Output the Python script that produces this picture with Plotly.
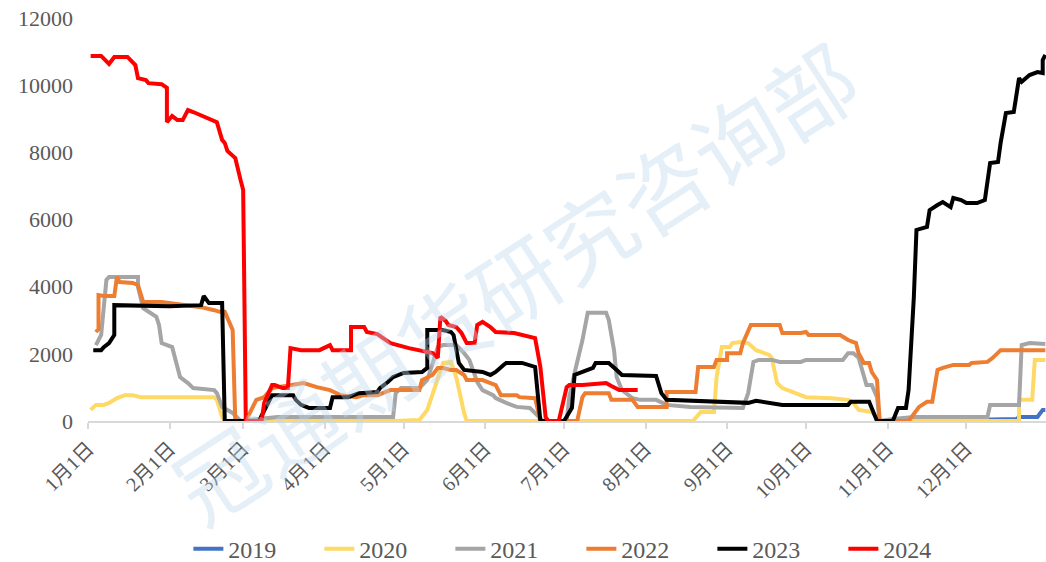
import pandas as pd
import plotly.graph_objects as go

# Day-of-year offsets (0 = 1月1日) and values
day_2019 = [316, 353, 354, 361, 363, 364]
val_2019 = [0, 60, 120, 120, 330, 330]

day_2020 = [1, 3, 6, 8, 11, 14, 17, 20, 48, 49, 51, 52, 117, 126, 129, 133, 135, 138, 140, 143, 144,
            230, 233, 238, 239, 241, 244, 245, 248, 251, 254, 259, 260, 262, 264, 268, 273, 283, 289,
            291, 293, 298, 301, 354, 354, 359, 360, 364]
val_2020 = [330, 480, 480, 540, 680, 770, 770, 710, 710, 630, 120, 0, 0, 30, 330, 1220, 1730, 1760, 1310, 240, 0,
            0, 270, 270, 1310, 2200, 2200, 2320, 2350, 2320, 2110, 1970, 1880, 1130, 980, 860, 710, 680, 630,
            540, 330, 270, 0, 0, 630, 630, 1820, 1820]

day_2021 = [3, 5, 7, 8, 19, 19, 21, 23, 26, 27, 28, 32, 33, 35, 38, 40, 48, 49, 51, 55, 58, 67, 72, 116,
            117, 119, 126, 129, 133, 135, 140, 143, 145, 148, 150, 154, 155, 159, 163, 168, 171, 173, 182,
            183, 185, 188, 190, 197, 198, 200, 201, 203, 207, 210, 216, 220, 229, 245, 249, 251, 253, 255,
            260, 263, 271, 273, 287, 289, 291, 293, 295, 296, 298, 300, 301, 306, 314, 342, 343, 354, 355,
            358, 364]
val_2021 = [2260, 2560, 4200, 4290, 4290, 3990, 3360, 3250, 3100, 2860, 2320, 2200, 1910, 1310, 1130, 980, 920, 830, 420, 240, 0, 90, 120, 120,
            830, 980, 980, 1220, 2200, 2260, 2260, 2020, 1820, 1160, 920, 770, 680, 540, 420, 390, 180, 0, 0,
            710, 1430, 2410, 3220, 3220, 3010, 2110, 1310, 920, 680, 630, 630, 480, 420, 390, 390, 830, 1760, 1820,
            1820, 1760, 1760, 1820, 1820, 2020, 2020, 1880, 1370, 1070, 1070, 710, 0, 60, 120, 120, 480, 480, 2260,
            2320, 2290]

day_2022 = [3, 4, 4, 6, 10, 11, 12, 16, 17, 19, 20, 21, 28, 43, 48, 50, 52, 54, 55, 56, 60, 64, 67, 70, 77,
            82, 87, 92, 96, 102, 105, 110, 112, 115, 126, 127, 131, 133, 135, 138, 140, 143, 144, 150, 153,
            155, 157, 163, 164, 168, 170, 172, 186, 188, 189, 198, 199, 207, 209, 220, 220, 231, 232, 238,
            239, 243, 243, 248, 249, 252, 263, 264, 271, 273, 274, 286, 289, 292, 293, 295, 297, 298, 300,
            301, 312, 316, 319, 321, 323, 325, 329, 335, 336, 342, 344, 347, 364]
val_2022 = [2650, 2740, 3750, 3720, 3720, 4290, 4140, 4140, 4110, 4050, 3810, 3540, 3540, 3390, 3300, 3250, 3250, 2920, 2710, 0, 0, 630, 710, 980, 1070,
            1130, 1010, 920, 770, 710, 770, 770, 830, 920, 920, 1220, 1370, 1580, 1580, 1520, 1520, 1370, 1220, 1220, 1130,
            1070, 770, 770, 710, 710, 680, 0, 0, 710, 830, 830, 630, 630, 420, 420, 860, 860, 1610, 1610,
            1820, 1820, 2020, 2020, 2320, 2860, 2860, 2620, 2620, 2650, 2560, 2560, 2410, 2320, 2020, 1730, 1730, 1460, 1220,
            0, 0, 420, 570, 570, 1520, 1580, 1670, 1670, 1730, 1760, 1880, 2110, 2110]

day_2023 = [2, 5, 6, 8, 10, 10, 31, 43, 44, 45, 46, 51, 52, 65, 70, 72, 78, 79, 81, 84, 92, 93, 99, 101,
            103, 110, 111, 114, 116, 120, 127, 129, 129, 135, 138, 139, 141, 143, 150, 153, 155, 158, 159,
            165, 168, 170, 172, 181, 184, 185, 188, 192, 193, 198, 201, 203, 216, 218, 220, 251, 254, 260,
            264, 289, 290, 297, 298, 300, 306, 308, 311, 312, 314, 315, 319, 320, 323, 325, 328, 329, 332,
            334, 338, 341, 343, 346, 347, 349, 352, 354, 355, 358, 361, 363, 363, 364]
val_2023 = [2110, 2110, 2200, 2320, 2560, 3450, 3420, 3450, 3720, 3600, 3510, 3510, 0, 0, 770, 770, 770, 630, 480, 390, 390, 710, 710, 770,
            830, 860, 980, 1160, 1310, 1430, 1460, 1580, 2710, 2710, 2650, 2560, 1730, 1520, 1460, 1370, 1460, 1670, 1730,
            1730, 1670, 1610, 0, 0, 390, 1370, 1460, 1580, 1730, 1730, 1520, 1370, 1340, 830, 630, 540, 600, 540,
            480, 480, 570, 570, 390, 0, 0, 390, 390, 920, 3690, 5690, 5780, 6280, 6430, 6520, 6370, 6640, 6580,
            6490, 6490, 6580, 7680, 7710, 8280, 9170, 9200, 10210, 10100, 10300, 10390, 10360, 10750, 10900]

day_2024 = [1, 5, 8, 10, 15, 18, 19, 22, 23, 28, 30, 30, 32, 34, 36, 38, 40, 49, 51, 52, 53, 56, 58, 59,
            60, 66, 67, 70, 71, 74, 76, 77, 81, 88, 92, 93, 100, 100, 105, 106, 110, 115, 122, 131, 133,
            134, 136, 137, 140, 142, 144, 147, 148, 150, 153, 155, 162, 168, 170, 172, 174, 175, 179, 182,
            183, 188, 197, 199, 202, 209]
val_2024 = [10870, 10870, 10630, 10840, 10840, 10600, 10210, 10150, 10060, 10030, 9920, 8900, 9080, 8960, 8960, 9260, 9200, 8900, 8370, 8280, 8040, 7830, 7180, 6880,
            0, 0, 540, 1070, 1070, 980, 980, 2170, 2110, 2110, 2260, 2110, 2110, 2800, 2800, 2650, 2590, 2320, 2170, 2020, 1880,
            3100, 2980, 2860, 2800, 2620, 2320, 2320, 2860, 2950, 2800, 2650, 2620, 2500, 2470, 1610, 120, 0, 0, 1010,
            1070, 1070, 1130, 1040, 920, 920]

series_names = ["2019", "2020", "2021", "2022", "2023", "2024"]
series_days = [day_2019, day_2020, day_2021, day_2022, day_2023, day_2024]
series_vals = [val_2019, val_2020, val_2021, val_2022, val_2023, val_2024]
series_colors = ["#4472C4", "#FFD966", "#A5A5A5", "#ED7D31", "#000000", "#FF0000"]

month_ticks = ["1月1日", "2月1日", "3月1日", "4月1日", "5月1日", "6月1日",
               "7月1日", "8月1日", "9月1日", "10月1日", "11月1日", "12月1日"]

base = pd.Timestamp("2023-01-01")
tickvals = [pd.Timestamp(2023, m, 1) for m in range(1, 13)]

fig = go.Figure()
for name, days, vals, color in zip(series_names, series_days, series_vals, series_colors):
    xs = [base + pd.Timedelta(days=d) for d in days]
    fig.add_trace(go.Scatter(x=xs, y=vals, mode="lines", name=name,
                             line=dict(color=color, width=4)))

serif = "Liberation Serif, Noto Sans CJK SC, serif"

fig.update_layout(
    width=1046, height=562,
    margin=dict(l=88, r=0, t=18, b=141, autoexpand=False),
    plot_bgcolor="white", paper_bgcolor="white",
    showlegend=True,
    legend=dict(orientation="h", x=0.515, xanchor="center", y=-0.318, yanchor="middle",
                font=dict(family=serif, size=24, color="#595959"),
                entrywidth=86, entrywidthmode="pixels", tracegroupgap=0),
    xaxis=dict(type="date", range=[base, pd.Timestamp("2023-12-31 06:00")], automargin=False,
               tickvals=tickvals, ticktext=month_ticks, tickangle=-45,
               tickfont=dict(family=serif, size=20, color="#595959"),
               showgrid=False, zeroline=False, showline=True, linecolor="#D9D9D9", linewidth=2,
               ticks="outside", ticklen=6, tickcolor="#D9D9D9", tickwidth=2),
    yaxis=dict(range=[0, 12000], dtick=2000, tickformat="d", automargin=False,
               showgrid=False, zeroline=False, showline=False,
               tickfont=dict(family=serif, size=22, color="#595959"), ticks="", ticklabelstandoff=14),
    annotations=[dict(text="冠通期货研究咨询部", xref="paper", yref="paper", x=0.445, y=0.35,
                      showarrow=False, textangle=-33,
                      font=dict(family="Noto Sans CJK SC", size=88, color="rgba(189,215,238,0.4)"))],
)

fig.write_html("out.html", config={"displayModeBar": False},
               post_script="document.body.style.margin='0';document.body.style.padding='0';")
